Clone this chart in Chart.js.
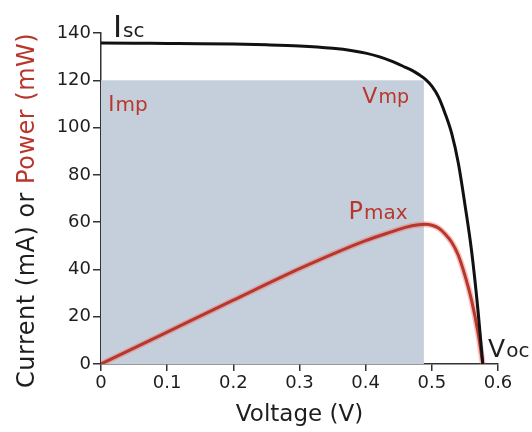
<!DOCTYPE html>
<html>
<head>
<meta charset="utf-8">
<script src="https://cdn.jsdelivr.net/npm/chart.js@4.4.1/dist/chart.umd.min.js"></script>
<style>
  html, body { margin: 0; padding: 0; background: #fff; }
  #wrap { width: 532px; height: 432px; }
</style>
</head>
<body>
<div id="wrap"><canvas id="ivChart" width="532" height="432"></canvas></div>
<script>
// I-V curve (black)
const ivVoltage = [0, 0.05, 0.1, 0.15, 0.2, 0.25, 0.3, 0.35, 0.38, 0.4, 0.42, 0.44, 0.46, 0.47, 0.48, 0.49, 0.5, 0.51, 0.52, 0.53, 0.54, 0.55, 0.56, 0.57, 0.577];
const ivCurrent = [135.8, 135.7, 135.6, 135.5, 135.3, 135.0, 134.5, 133.5, 132.5, 131.5, 130, 128, 125.5, 124.2, 122.5, 120.5, 117.5, 113, 106, 97.5, 85, 67.5, 48, 22, 0];

// power curve (red)
const pvVoltage = [0, 0.1, 0.2, 0.3, 0.35, 0.4, 0.44, 0.46, 0.48, 0.49, 0.5, 0.51, 0.52, 0.53, 0.54, 0.55, 0.56, 0.57, 0.577];
const pvPower = [0, 13.5, 27, 40.3, 46.5, 52.2, 56, 57.8, 58.9, 59.1, 58.7, 57.5, 55, 51.5, 46, 37.5, 27, 13, 0];

// max power point rectangle
const mpVoltage = 0.488;
const mpCurrent = 120;

const xTicks = [0, 0.1, 0.2, 0.3, 0.4, 0.5, 0.6];
const yTicks = [0, 20, 40, 60, 80, 100, 120, 140];

const FONT = "'DejaVu Sans', sans-serif";
const RED = "#b8372d";
const INK = "#1e1e1e";

const ivPoints = ivVoltage.map((v, i) => ({ x: v, y: ivCurrent[i] }));
const pvPoints = pvVoltage.map((v, i) => ({ x: v, y: pvPower[i] }));
const mpPoints = [{ x: 0, y: mpCurrent }, { x: mpVoltage, y: mpCurrent }];

// labels with subscripts, anchored in data units
const curveLabels = [
    { main: "I", sub: "sc", x: 0.018, y: 138.3, mainSize: 31, subSize: 20, color: INK },
    { main: "I", sub: "mp", x: 0.011, y: 107, mainSize: 21, subSize: 20, color: RED },
    { main: "V", sub: "mp", x: 0.395, y: 110.4, mainSize: 22, subSize: 19, color: RED },
    { main: "P", sub: "max", x: 0.374, y: 61.5, mainSize: 24, subSize: 20, color: RED },
    { main: "V", sub: "oc", x: 0.585, y: 3, mainSize: 25, subSize: 20, color: INK }
];

const labelPlugin = {
    id: "labelPlugin",
    afterDraw(chart) {
        const ctx = chart.ctx;
        const xs = chart.scales.x, ys = chart.scales.y;
        ctx.save();
        ctx.textBaseline = "alphabetic";
        ctx.textAlign = "left";
        curveLabels.forEach(l => {
            let px = xs.getPixelForValue(l.x);
            const py = ys.getPixelForValue(l.y);
            ctx.fillStyle = l.color;
            ctx.font = l.mainSize + "px " + FONT;
            ctx.fillText(l.main, px, py);
            px += ctx.measureText(l.main).width + 1;
            ctx.font = l.subSize + "px " + FONT;
            ctx.fillText(l.sub, px, py);
        });

        // y title in two colours
        ctx.translate(34, 388);
        ctx.rotate(-Math.PI / 2);
        ctx.font = "24px " + FONT;
        ctx.letterSpacing = "0.5px";
        const part1 = "Current (mA) or ";
        ctx.fillStyle = INK;
        ctx.fillText(part1, 0, 0);
        ctx.fillStyle = RED;
        ctx.fillText("Power (mW)", ctx.measureText(part1).width, 0);
        ctx.restore();
    }
};

new Chart(document.getElementById("ivChart"), {
    type: "line",
    data: {
        datasets: [
            {
                data: ivPoints,
                borderColor: "#111",
                borderWidth: 3,
                pointRadius: 0,
                cubicInterpolationMode: "monotone",
                order: 1
            },
            {
                data: pvPoints,
                borderColor: RED,
                borderWidth: 3,
                pointRadius: 0,
                cubicInterpolationMode: "monotone",
                order: 2
            },
            {
                data: pvPoints,
                borderColor: "rgba(235,120,110,0.45)",
                borderWidth: 6,
                pointRadius: 0,
                cubicInterpolationMode: "monotone",
                order: 3
            },
            {
                data: mpPoints,
                borderWidth: 0,
                pointRadius: 0,
                backgroundColor: "#c5cfdb",
                fill: "origin",
                order: 4
            }
        ]
    },
    options: {
        responsive: false,
        animation: false,
        layout: { padding: { left: 0, right: 34, top: 33, bottom: 0 } },
        plugins: {
            legend: { display: false },
            tooltip: { enabled: false }
        },
        scales: {
            x: {
                type: "linear",
                min: 0,
                max: 0.6,
                afterBuildTicks: s => { s.ticks = xTicks.map(v => ({ value: v })); },
                afterFit: s => { s.height = 68; },
                ticks: {
                    color: INK,
                    font: { family: FONT, size: 18 },
                    padding: 2,
                    maxRotation: 0,
                    callback: v => String(v)
                },
                grid: { drawOnChartArea: false, drawTicks: true, tickLength: 7, color: "#333", lineWidth: 1.5 },
                border: { color: "#333", width: 1.5 },
                title: {
                    display: true,
                    text: "Voltage (V)",
                    color: INK,
                    font: { family: FONT, size: 23 },
                    padding: { top: 0, bottom: 3 }
                }
            },
            y: {
                min: 0,
                max: 140,
                afterBuildTicks: s => { s.ticks = yTicks.map(v => ({ value: v })); },
                afterFit: s => { s.width = 101; },
                ticks: {
                    color: INK,
                    font: { family: FONT, size: 18 },
                    padding: 2
                },
                grid: { drawOnChartArea: false, drawTicks: true, tickLength: 8, color: "#333", lineWidth: 1.5 },
                border: { color: "#333", width: 1.5 }
            }
        }
    },
    plugins: [labelPlugin]
});
</script>
</body>
</html>
